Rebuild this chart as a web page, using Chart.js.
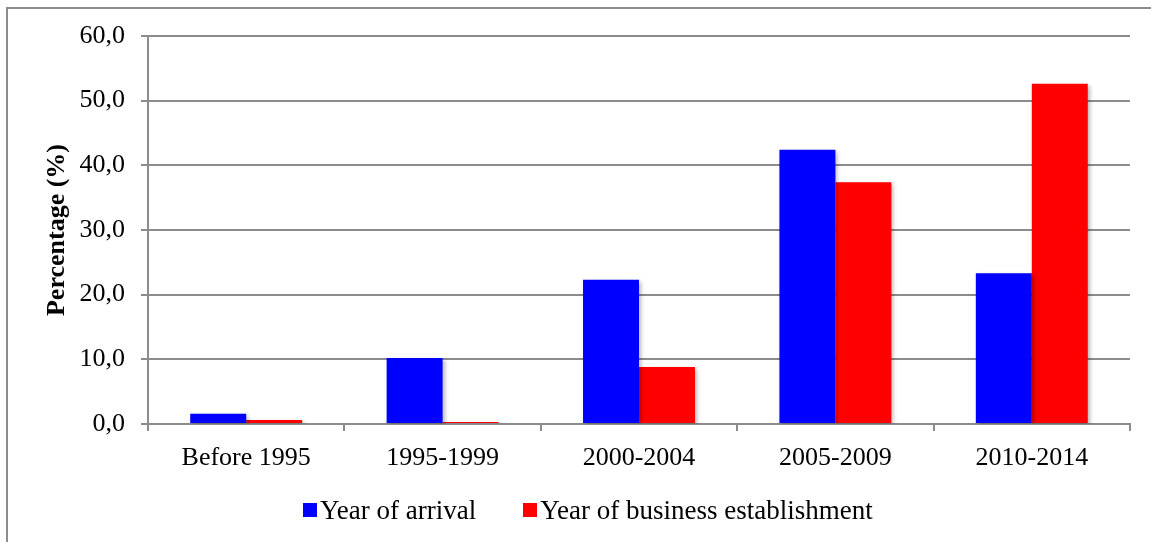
<!DOCTYPE html>
<html>
<head>
<meta charset="utf-8">
<script src="https://cdn.jsdelivr.net/npm/chart.js@4/dist/chart.umd.min.js"></script>
<style>
  html, body { margin: 0; padding: 0; background: #fff; }
  #wrap { position: relative; width: 1151px; height: 542px; overflow: hidden; }
  #frame { position: absolute; left: 6px; top: 7px; width: 1300px; height: 700px;
           border-left: 2px solid #8c8c8c; border-top: 2px solid #8c8c8c; }
  #c { position: absolute; left: 0; top: 0; }
  #legend { position: absolute; left: 303px; top: 494px; display: flex; align-items: center;
            font-family: "Liberation Serif", "Times New Roman", serif; font-size: 27px; line-height: 32px; color: #000; }
  .item { display: flex; align-items: center; margin-right: 47px; }
  .box { width: 14px; height: 14px; margin-right: 3px; }
</style>
</head>
<body>
<div id="wrap">
  <div id="frame"></div>
  <canvas id="c" width="1151" height="542"></canvas>
  <div id="legend"></div>
</div>
<script>
const categories = ['Before 1995', '1995-1999', '2000-2004', '2005-2009', '2010-2014'];
const yearOfArrival = [1.6, 10.2, 22.3, 42.4, 23.3];
const yearOfBusinessEstablishment = [0.6, 0.3, 8.8, 37.4, 52.6];
const seriesLabels = ['Year of arrival', 'Year of business establishment'];
const seriesColors = ['#0000ff', '#ff0000'];

const serif = '"Liberation Serif", "Times New Roman", serif';
const gridColor = '#8c8c8c';

const shadowPlugin = {
  id: 'barShadow',
  beforeDatasetsDraw(chart) {
    const ctx = chart.ctx;
    ctx.save();
    ctx.shadowColor = 'rgba(0,0,0,0.28)';
    ctx.shadowBlur = 4;
    ctx.shadowOffsetX = 2;
    ctx.shadowOffsetY = 2;
  },
  afterDatasetsDraw(chart) { chart.ctx.restore(); }
};

const chart = new Chart(document.getElementById('c'), {
  type: 'bar',
  data: {
    labels: categories,
    datasets: [
      { label: seriesLabels[0], data: yearOfArrival, backgroundColor: seriesColors[0] },
      { label: seriesLabels[1], data: yearOfBusinessEstablishment, backgroundColor: seriesColors[1] }
    ]
  },
  options: {
    responsive: false,
    animation: false,
    devicePixelRatio: 1,
    layout: { padding: { top: 36, right: 21, bottom: 0, left: 0 } },
    datasets: { bar: { categoryPercentage: 0.57, barPercentage: 1.0 } },
    plugins: { legend: { display: false }, tooltip: { enabled: false } },
    scales: {
      x: {
        offset: true,
        grid: { display: true, drawOnChartArea: false, drawTicks: true, tickLength: 7, color: gridColor, lineWidth: 2, offset: true },
        border: { display: true, color: gridColor, width: 2 },
        ticks: { color: '#000', font: { family: serif, size: 26 }, padding: 12, maxRotation: 0 },
        afterFit(s) { s.height = 118; }
      },
      y: {
        min: 0, max: 60,
        grid: { color: gridColor, lineWidth: 2, tickLength: 7 },
        border: { display: true, color: gridColor, width: 2 },
        ticks: { stepSize: 10, color: '#000', font: { family: serif, size: 26 }, padding: 16,
                 callback: v => v.toFixed(1).replace('.', ',') },
        title: { display: true, text: 'Percentage (%)', color: '#000',
                 font: { family: serif, size: 26, weight: 'bold' }, padding: { top: 42, bottom: 0 } },
        afterFit(s) { s.width = 148; }
      }
    }
  },
  plugins: [shadowPlugin]
});

const legend = document.getElementById('legend');
chart.data.datasets.forEach(ds => {
  const item = document.createElement('div');
  item.className = 'item';
  const box = document.createElement('span');
  box.className = 'box';
  box.style.background = ds.backgroundColor;
  const txt = document.createElement('span');
  txt.textContent = ds.label;
  item.appendChild(box);
  item.appendChild(txt);
  legend.appendChild(item);
});
</script>
</body>
</html>
